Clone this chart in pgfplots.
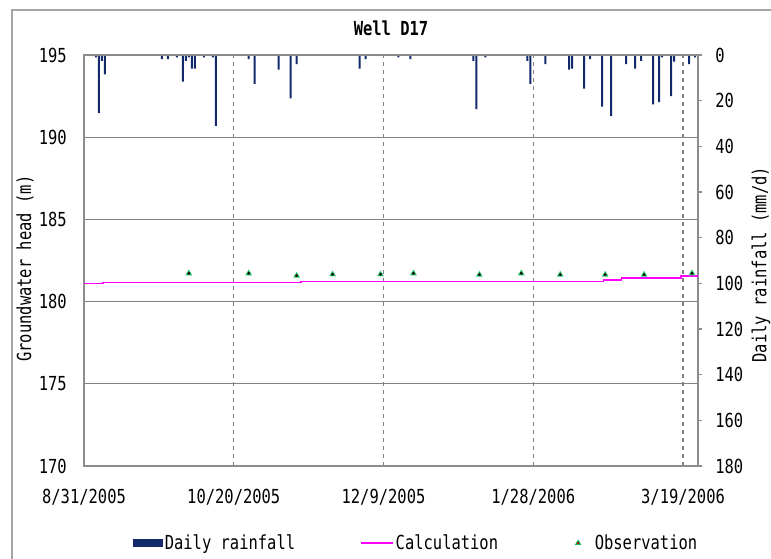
\documentclass[border=0pt]{standalone}
\usepackage{fontspec}
\setmainfont[FakeStretch=0.8]{DejaVu Sans Mono}
\usepackage{pgfplots}
\usepackage{pgfplotstable}
\pgfplotsset{compat=1.18}

\definecolor{rainblue}{RGB}{18,42,108}
\definecolor{calcmag}{RGB}{255,0,255}
\definecolor{obsgreen}{RGB}{0,176,80}
\definecolor{obsred}{RGB}{200,0,0}
\definecolor{axgray}{RGB}{140,140,140}
\definecolor{gridgray}{RGB}{128,128,128}
\definecolor{framegray}{RGB}{165,165,165}

\newcommand{\cf}{\fontsize{14.5pt}{17pt}\selectfont}

% day 0 = 8/31/2005
\pgfplotstableread{
day rain
4 1
5 25.5
6 2.6
7 8.5
26 1.8
28 1.8
31 1
33 11.7
34 2.6
35 1
36 6
37 6
40 1
43 1
44 31
55 1.8
57 12.7
65 6.4
69 19
71 4
92 6
94 1.8
105 1
109 1.8
130 2.6
131 23.7
134 1
148 2.6
149 12.7
154 4
162 6.4
163 6
167 14.7
169 1.8
173 22.6
176 26.8
181 4
184 6
186 2.6
190 21.6
192 20.6
193 1
196 18
197 2.9
202 4
204 1
}\raintable

\pgfplotstableread{
day head
0 181.11
6.4 181.17
72.4 181.23
173.4 181.30
179.4 181.42
199.3 181.56
205 181.56
}\calctable

\pgfplotstableread{
day head
35 181.72
55 181.72
71 181.58
83 181.66
99 181.66
110 181.72
132 181.64
146 181.72
159 181.64
174 181.64
187 181.64
203 181.72
}\obstable

\begin{document}
\begin{tikzpicture}
\useasboundingbox (0,0) rectangle (578.25pt,419.25pt);
\draw[framegray, line width=0.9pt] (9pt,-10pt) -- (9pt,411.75pt) -- (600pt,411.75pt);

\pgfplotsset{
  chartbase/.style={
    at={(63pt,69.75pt)}, anchor=south west,
    scale only axis, width=460.5pt, height=308.25pt,
    xmin=0, xmax=205,
    /pgf/number format/assume math mode=true,
    every tick label/.append style={font=\cf},
  }
}

% daily rainfall, right axis, drawn downward from the top
\begin{axis}[
  chartbase,
  ymin=0, ymax=180, y dir=reverse,
  axis y line*=right, axis x line=none,
  y axis line style={axgray, line width=1pt},
  ytick={0,20,...,180},
  tick align=outside, major tick length=3pt,
  ytick style={axgray, line width=0.8pt},
  yticklabel style={inner sep=0pt, xshift=9.75pt, anchor=west},
  every axis y label/.style={at={(axis description cs:1.1025,0.49)}, rotate=90, anchor=center, font=\cf},
  ylabel={Daily rainfall (mm/d)},
]
\addplot[ybar, bar width=1.5pt, bar shift=0pt, fill=rainblue, draw=none] table[x=day, y=rain] {\raintable};
\end{axis}

% groundwater head, left axis
\begin{axis}[
  chartbase,
  ymin=170, ymax=195,
  axis line style={axgray, line width=1pt},
  ytick={170,175,...,195},
  xtick={0,50,100,150,200},
  xticklabels={8/31/2005,10/20/2005,12/9/2005,1/28/2006,3/19/2006},
  major tick length=0pt,
  ytick pos=left, xtick pos=bottom,
  xmajorgrids, ymajorgrids,
  x grid style={gridgray, dashed, line width=0.8pt},
  y grid style={gridgray, line width=0.8pt},
  yticklabel style={inner sep=0pt, xshift=-12.75pt, anchor=east},
  xticklabel style={inner sep=0pt, yshift=-17pt, anchor=north},
  every axis y label/.style={at={(axis description cs:-0.0961,0.48)}, rotate=90, anchor=center, font=\cf},
  ylabel={Groundwater head (m)},
  every axis title/.style={at={(axis description cs:0.5,1.0657)}, anchor=center, font=\cf\bfseries},
  title={Well D17},
  legend columns=3,
  legend cell align=left,
  legend style={draw=none, fill=none, inner sep=0pt, font=\cf,
    at={(axis description cs:0.0798,-0.1873)}, anchor=west,
    nodes={inner sep=1.5pt},
    /tikz/every even column/.append style={column sep=47.5pt}},
]
\addlegendimage{legend image code/.code={\fill[rainblue] (0pt,-2.6pt) rectangle (21.75pt,2.6pt);}}
\addlegendentry{Daily rainfall}
\addplot[calcmag, line width=1.2pt, const plot, mark=none,
  legend image code/.code={\draw[calcmag, line width=0.9pt] (0pt,0pt) -- (24pt,0pt);}]
  table[x=day, y=head] {\calctable};
\addlegendentry{Calculation}
\addplot[only marks, mark=triangle*, mark size=2.6pt, mark options={fill=obsgreen, draw=obsgreen!65!white, line width=0.3pt},
  legend image code/.code={%
    \path[draw=none, fill=none] (0pt,0pt) -- (22pt,0pt);
    \fill[obsgreen] (11pt,2.2pt) -- (9pt,-1.2pt) -- (13pt,-1.2pt) -- cycle;
    \fill[obsred] (11pt,0pt) circle (0.6pt);}]
  table[x=day, y=head] {\obstable};
\addlegendentry{Observation}
\addplot[only marks, mark=*, mark size=0.8pt, mark options={fill=obsred, draw=none}, forget plot]
  table[x=day, y=head] {\obstable};
\end{axis}
\end{tikzpicture}
\end{document}
